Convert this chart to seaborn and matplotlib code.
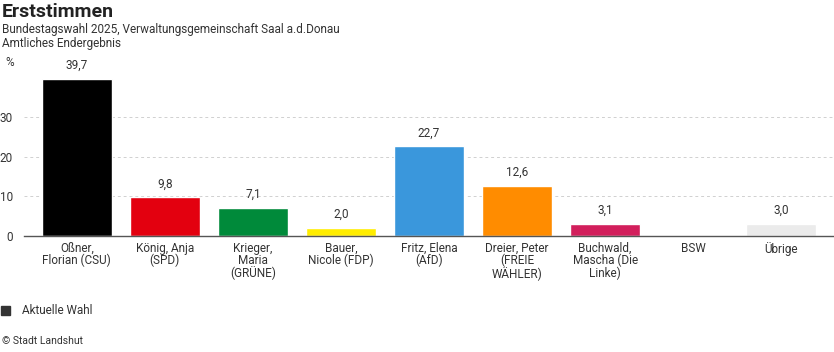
import numpy as np
import pandas as pd
import seaborn as sns
import matplotlib.pyplot as plt
from matplotlib.patches import Patch

# Erststimmen, Bundestagswahl 2025, VG Saal a.d.Donau
candidates = ["Oßner,\nFlorian (CSU)", "König, Anja\n(SPD)", "Krieger,\nMaria\n(GRÜNE)",
              "Bauer,\nNicole (FDP)", "Fritz, Elena\n(AfD)", "Dreier, Peter\n(FREIE\nWÄHLER)",
              "Buchwald,\nMascha (Die\nLinke)", "BSW", "Übrige"]
shares = [39.7, 9.8, 7.1, 2.0, 22.7, 12.6, 3.1, np.nan, 3.0]
party_colors = ["#000000", "#e3000f", "#008a3a", "#ffed00", "#3a97dc",
                "#ff8c00", "#d21f5c", "#bbbbbb", "#ebebeb"]
y_ticks = [0, 10, 20, 30]

df = pd.DataFrame({"name": candidates, "share": shares})

sns.set_style("white")
plt.rcParams["font.family"] = ["Roboto", "DejaVu Sans"]
text_col = "#333333"

fig = plt.figure(figsize=(8.34, 3.52), dpi=100)
ax = fig.add_axes([24 / 834, 1 - 236 / 352, 810 / 834, 174 / 352])

sns.barplot(data=df, x="name", y="share", hue="name", order=candidates,
            hue_order=candidates, palette=party_colors, legend=False,
            width=0.795, saturation=1, ax=ax)

# value labels above bars
for i, v in enumerate(shares):
    if not np.isnan(v):
        ax.annotate(f"{v:.1f}".replace(".", ","), (i, v), xytext=(0, 5),
                    textcoords="offset points", ha="center", va="bottom",
                    fontsize=8.5, color=text_col)

ax.set_xlim(-0.6, len(candidates) - 0.4)
ax.set_ylim(0, 44)
ax.set_yticks(y_ticks)
ax.set_xlabel("")
ax.set_ylabel("")
ax.yaxis.grid(True, linestyle=(0, (3, 3)), color="#d0d0d0", linewidth=0.7)
ax.set_axisbelow(True)
for s in ["top", "right", "left"]:
    ax.spines[s].set_visible(False)
ax.spines["bottom"].set_color("#555555")
ax.spines["bottom"].set_linewidth(1)
ax.tick_params(axis="y", length=0, pad=8, labelsize=8.5, labelcolor=text_col)
ax.tick_params(axis="x", length=0, pad=4, labelsize=8.5, labelcolor=text_col)
for lbl in ax.get_xticklabels():
    lbl.set_linespacing(0.95)

fig.text(2 / 834, 1 - 12 / 352, "Erststimmen", fontsize=14, fontweight="bold",
         color="#222222", va="center", ha="left")
fig.text(2 / 834, 1 - 29 / 352, "Bundestagswahl 2025, Verwaltungsgemeinschaft Saal a.d.Donau",
         fontsize=8.5, color=text_col, va="center", ha="left")
fig.text(2 / 834, 1 - 43 / 352, "Amtliches Endergebnis",
         fontsize=8.5, color=text_col, va="center", ha="left")
fig.text(5 / 834, 1 - 62 / 352, "%", fontsize=8.5, color=text_col, va="center", ha="left")

fig.legend(handles=[Patch(color="#333333", label="Aktuelle Wahl")], loc="center left",
           bbox_to_anchor=(-0.012, 1 - 311 / 352), frameon=False, fontsize=8.5,
           handlelength=0.8, handleheight=0.7, handletextpad=1.0, labelcolor=text_col)
fig.text(2 / 834, 1 - 341 / 352, "© Stadt Landshut", fontsize=7.5, color=text_col,
         va="center", ha="left")

fig.savefig("out.png", dpi=100)
